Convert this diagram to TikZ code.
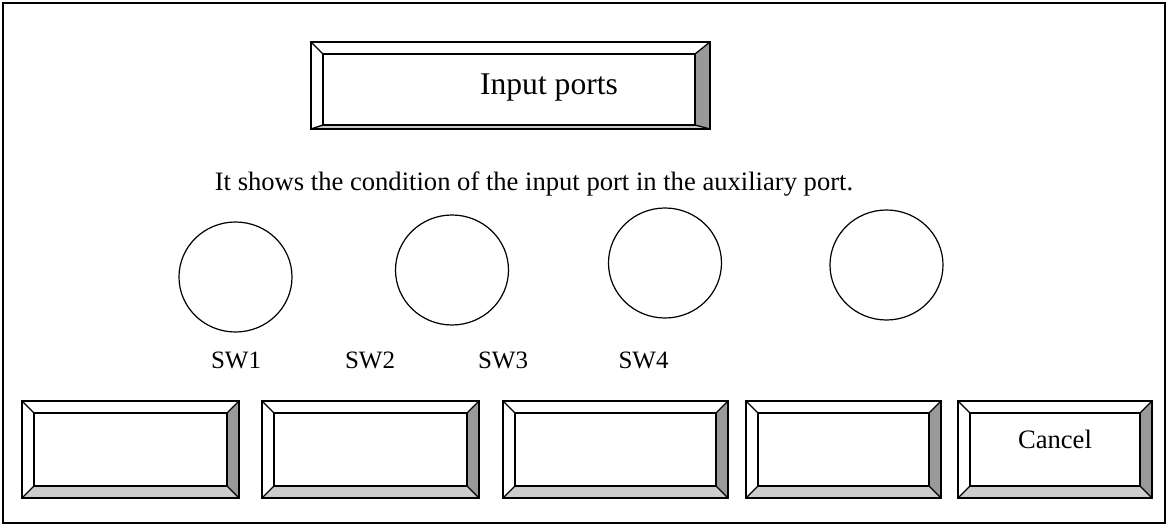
\documentclass[tikz,border=0pt]{standalone}
\usepackage{fontspec}
\setmainfont{Liberation Serif}
\usetikzlibrary{shapes.geometric}
\definecolor{bevdark}{HTML}{999999}
\definecolor{bevlight}{HTML}{CCCCCC}
\tikzset{
  bevline/.style={line width=1.3pt, line join=miter},
  lamp/.style={ellipse, draw, line width=1.2pt, minimum width=113pt, minimum height=110pt, inner sep=0pt},
  bodytext/.style={inner sep=0pt, font=\fontsize{26.6}{30}\selectfont},
  swtext/.style={inner sep=0pt, anchor=base, font=\fontsize{25}{28}\selectfont},
}
% #1 x1, #2 y1, #3 x2, #4 y2, #5 inset left/top, #6 inset right, #7 inset bottom, #8 name
\newcommand\bevelbtn[8]{%
  \fill[white] (#1,#2) rectangle (#3,#4);
  \fill[bevdark] (#3,#2) -- (#3,#4) -- (#3-#6,#4-#7) -- (#3-#6,#2+#5) -- cycle;
  \fill[bevlight] (#1,#4) -- (#3,#4) -- (#3-#6,#4-#7) -- (#1+#5,#4-#7) -- cycle;
  \draw[bevline] (#1,#2) rectangle (#3,#4);
  \draw[bevline] (#1+#5,#2+#5) rectangle (#3-#6,#4-#7);
  \draw[bevline] (#1,#2) -- (#1+#5,#2+#5) (#3,#2) -- (#3-#6,#2+#5)
                 (#3,#4) -- (#3-#6,#4-#7) (#1,#4) -- (#1+#5,#4-#7);
  \coordinate (#8) at ({(#1+#3)/2},{(#2+#4)/2});
}
\begin{document}
\begin{tikzpicture}[x=1pt,y=-1pt]
\useasboundingbox (0,0) rectangle (1168,527);
\draw[line width=1.5pt] (3,3) rectangle (1165,523);

\bevelbtn{311}{42}{710}{129}{12}{15}{4}{title}
\node[inner sep=0pt, anchor=base, font=\fontsize{31.6}{36}\selectfont] (titletext) at (549,95) {Input ports};

\node[bodytext, anchor=base] (desc) at (534,190) {It shows the condition of the input port in the auxiliary port.};

\node[lamp] (c1) at (235.5,277) {};
\node[lamp] (c2) at (452,270) {};
\node[lamp] (c3) at (665,263) {};
\node[lamp] (c4) at (886.5,265) {};

\node[swtext] (sw1) at (236,368) {SW1};
\node[swtext] (sw2) at (370,368) {SW2};
\node[swtext] (sw3) at (503,368) {SW3};
\node[swtext] (sw4) at (643.5,368) {SW4};

\bevelbtn{22}{401}{239}{498}{12}{12}{12}{b1}
\bevelbtn{262}{401}{479}{498}{12}{12}{12}{b2}
\bevelbtn{503}{401}{728}{498}{12}{12}{12}{b3}
\bevelbtn{746}{401}{941}{498}{12}{12}{12}{b4}
\bevelbtn{958}{401}{1152}{498}{12}{12}{12}{b5}
\node[bodytext, anchor=base] (cancel) at (1055,448) {Cancel};
\end{tikzpicture}
\end{document}
